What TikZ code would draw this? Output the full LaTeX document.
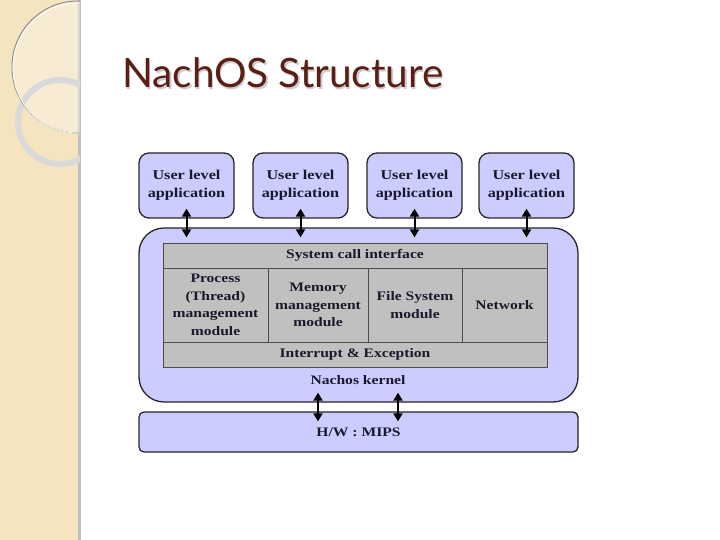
\documentclass[tikz,border=0pt]{standalone}
\usepackage{fontspec}
\setmainfont{Liberation Serif}[FakeStretch=1.2]
\newfontfamily\titlefont{Lato}
\usetikzlibrary{arrows.meta,calc}

\definecolor{lavender}{RGB}{204,204,255}
\definecolor{cellgray}{RGB}{192,192,192}
\definecolor{strip}{RGB}{244,228,192}
\definecolor{titlebrown}{RGB}{90,30,20}
\definecolor{inktext}{RGB}{25,25,45}

\tikzset{
  appbox/.style={draw=black!85,line width=1.3pt,fill=lavender,rounded corners=10pt,
    minimum width=95pt,minimum height=65pt,inner sep=0pt,align=center,text=inktext,
    font=\fontsize{13.5}{18}\selectfont\bfseries},
  cellbox/.style={draw=black!70,line width=1pt,fill=cellgray,inner sep=0pt,align=center,text=inktext,
    font=\fontsize{13}{17.5}\selectfont\bfseries},
  dblarrow/.style={line width=2pt,{Triangle[width=9pt,length=8pt]}-{Triangle[width=9pt,length=8pt]},
    shorten <=-10pt,shorten >=-10pt}
}

\begin{document}
\begin{tikzpicture}[x=1pt,y=-1pt]
\useasboundingbox (0,0) rectangle (720,540);

% side strip
\fill[strip] (0,0) rectangle (80,540);
\fill[black!25] (78,0) rectangle (81,540);
\begin{scope}
\clip (0,0) rectangle (80,540);
\fill[white,opacity=0.3] (78,67) circle (66);
\draw[black!15,line width=6pt] (60,122) circle (42);
\draw[black!45,line width=1pt] (78,67) circle (66);
\draw[white,line width=0.8pt] (78,68) circle (65);
\end{scope}

% title
\node[anchor=base west,inner sep=0pt,text=black!20] at (123.5,89.5) {\titlefont\fontsize{40.5}{42}\selectfont NachOS Structure};
\node[anchor=base west,inner sep=0pt,text=titlebrown] (title) at (122,88) {\titlefont\fontsize{40.5}{42}\selectfont NachOS Structure};

% user level applications
\node[appbox] (app1) at (186.5,185.5) {User level\\application};
\node[appbox] (app2) at (300.5,185.5) {User level\\application};
\node[appbox] (app3) at (414.5,185.5) {User level\\application};
\node[appbox] (app4) at (526.5,185.5) {User level\\application};

% kernel
\node[draw=black!85,line width=1.3pt,fill=lavender,rounded corners=25pt,
  minimum width=439pt,minimum height=174pt,inner sep=0pt] (kernel) at (358.5,315) {};
\node[text=inktext,font=\fontsize{13}{15}\selectfont\bfseries] (klabel) at (358,380) {Nachos kernel};

% kernel modules
\node[cellbox,minimum width=384pt,minimum height=25pt] (sci) at (355,255.5) {System call interface};
\node[cellbox,minimum width=105pt,minimum height=74pt] (proc) at (215.5,305) {Process\\(Thread)\\management\\module};
\node[cellbox,minimum width=100pt,minimum height=74pt] (mem) at (318,305) {Memory\\management\\module};
\node[cellbox,minimum width=94pt,minimum height=74pt] (fs) at (415,305) {File System\\module};
\node[cellbox,minimum width=85pt,minimum height=74pt] (net) at (504.5,305) {Network};
\node[cellbox,minimum width=384pt,minimum height=25pt] (intr) at (355,354.5) {Interrupt \& Exception};

% hardware
\node[draw=black!85,line width=1.3pt,fill=lavender,rounded corners=5pt,
  minimum width=439pt,minimum height=40pt,inner sep=0pt,text=inktext,
  font=\fontsize{13}{15}\selectfont\bfseries] (hw) at (358.5,432) {H/W : MIPS};

% connectors
\foreach \a in {app1,app2,app3,app4}
  \draw[dblarrow] (\a.south) -- (\a.south |- kernel.north);
\draw[dblarrow] (kernel.south -| 318,0) -- (hw.north -| 318,0);
\draw[dblarrow] (kernel.south -| 398,0) -- (hw.north -| 398,0);

\end{tikzpicture}
\end{document}
